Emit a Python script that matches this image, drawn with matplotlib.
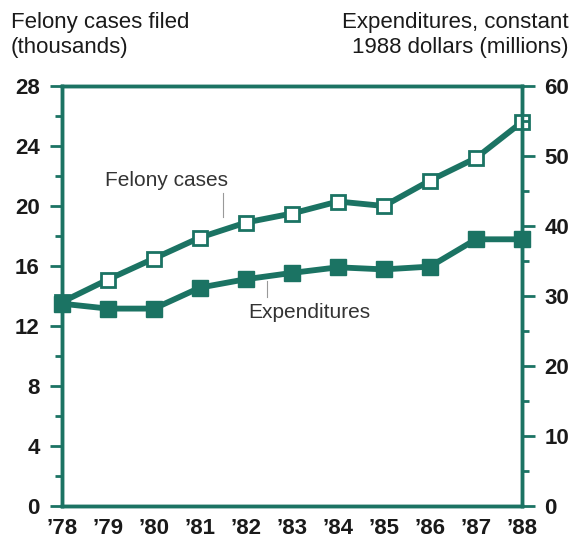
import matplotlib
matplotlib.use("Agg")
import matplotlib.pyplot as plt
from matplotlib.ticker import MultipleLocator

plt.rcParams["font.family"] = ["Liberation Sans", "DejaVu Sans"]

TEAL = "#1b7363"

years = [1978, 1979, 1980, 1981, 1982, 1983, 1984, 1985, 1986, 1987, 1988]
year_labels = ["\u201978", "\u201979", "\u201980", "\u201981", "\u201982", "\u201983",
               "\u201984", "\u201985", "\u201986", "\u201987", "\u201988"]
felony_cases = [13.6, 15.1, 16.5, 17.9, 18.9, 19.5, 20.3, 20.0, 21.7, 23.2, 25.6]
expenditures = [28.9, 28.2, 28.2, 31.2, 32.4, 33.3, 34.1, 33.8, 34.2, 38.1, 38.1]

fig = plt.figure(figsize=(5.78, 5.42), dpi=100)
ax = fig.add_axes([62 / 578, 36 / 542, 460 / 578, 420 / 542])
ax2 = ax.twinx()

ax.plot(years, felony_cases, color=TEAL, linewidth=4.2, marker="s", markersize=10,
        markerfacecolor="white", markeredgecolor=TEAL, markeredgewidth=2,
        clip_on=False, zorder=5)
ax2.plot(years, expenditures, color=TEAL, linewidth=4.2, marker="s", markersize=11,
         markerfacecolor=TEAL, markeredgecolor=TEAL, clip_on=False, zorder=5)

ax.set_xlim(1978, 1988)
ax.set_ylim(0, 28)
ax2.set_ylim(0, 60)

ax.yaxis.set_major_locator(MultipleLocator(4))
ax.yaxis.set_minor_locator(MultipleLocator(2))
ax2.yaxis.set_major_locator(MultipleLocator(10))
ax2.yaxis.set_minor_locator(MultipleLocator(5))
ax.set_xticks(years)
ax.set_xticklabels(year_labels)

for a in (ax, ax2):
    for side in a.spines.values():
        side.set_color(TEAL)
        side.set_linewidth(2.5)

ax.tick_params(axis="y", which="major", length=9, width=2, color=TEAL, pad=7,
               labelsize=16)
ax.tick_params(axis="y", which="minor", length=5, width=2, color=TEAL)
ax2.tick_params(axis="y", which="major", length=9, width=2, color=TEAL, pad=7,
                labelsize=16)
ax2.tick_params(axis="y", which="minor", length=5, width=2, color=TEAL)
ax.tick_params(axis="x", length=0, pad=9, labelsize=16)

for lbl in ax.get_xticklabels() + ax.get_yticklabels() + ax2.get_yticklabels():
    lbl.set_fontweight("bold")
    lbl.set_color("#1a1a1a")

fig.text(11 / 578, 1 - 12 / 542, "Felony cases filed\n(thousands)", ha="left", va="top",
         fontsize=16, color="#1a1a1a", linespacing=1.25)
fig.text(569 / 578, 1 - 12 / 542, "Expenditures, constant\n1988 dollars (millions)",
         ha="right", va="top", fontsize=16, color="#1a1a1a", linespacing=1.25,
         multialignment="right")

# series labels with thin leader lines
ax.text(1978.93, 21.7, "Felony cases", fontsize=15, color="#333333", ha="left", va="center")
ax.plot([1981.5, 1981.5], [20.85, 19.3], color="#999999", linewidth=0.8)
ax.text(1982.05, 12.9, "Expenditures", fontsize=15, color="#333333", ha="left", va="center")
ax.plot([1982.45, 1982.45], [15.0, 13.95], color="#999999", linewidth=0.8)

fig.savefig("out.png", dpi=100)
